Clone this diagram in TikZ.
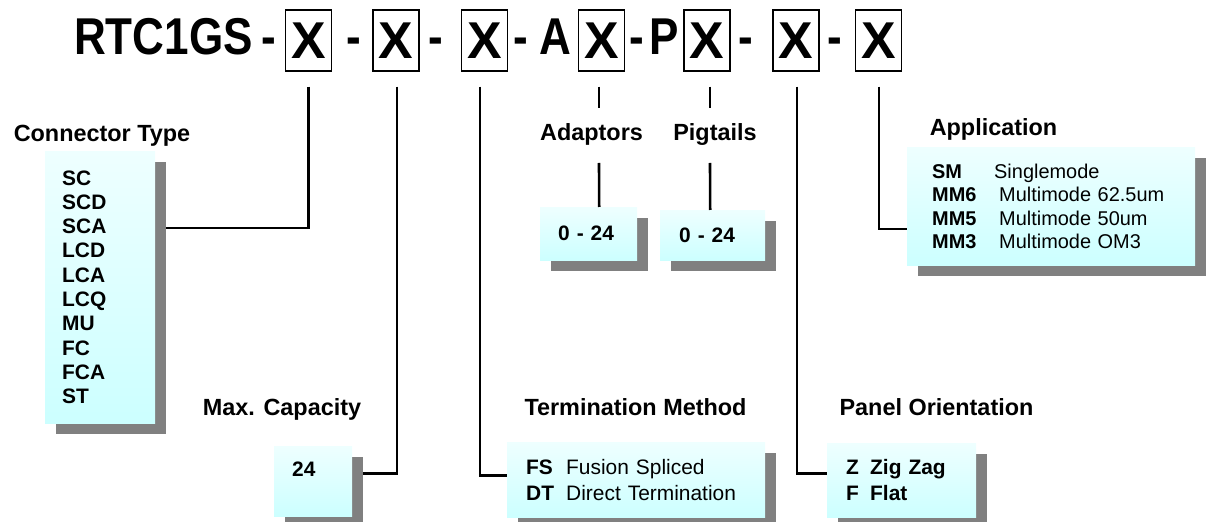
\documentclass[tikz,border=0pt]{standalone}
\usepackage{fontspec}
\setmainfont{Liberation Sans}
\newfontfamily\titlefont[FakeStretch=0.85]{Liberation Sans}
\usetikzlibrary{shadows}
\definecolor{boxtop}{RGB}{238,255,255}
\definecolor{boxbot}{RGB}{204,255,255}
\definecolor{shadowgray}{RGB}{128,128,128}

\begin{document}
\begin{tikzpicture}[x=1bp, y=-1bp,
  ttl/.style={font=\titlefont\bfseries\fontsize{52}{60}\selectfont, inner sep=0pt, anchor=base},
  xbox/.style={draw, line width=1.2bp, minimum width=46bp, minimum height=61bp, inner sep=0pt,
               font=\bfseries\fontsize{52}{60}\selectfont},
  conn/.style={line width=2.6bp},
  head/.style={font=\bfseries\fontsize{23.5}{28}\selectfont, inner sep=0pt, anchor=base},
  codebox/.style={anchor=north west, top color=boxtop, bottom color=boxbot, inner ysep=0pt, align=left,
                  drop shadow={shadow xshift=10.5bp, shadow yshift=-10.5bp, fill=shadowgray, opacity=1}},
  boldlist/.style={font=\bfseries\fontsize{21}{24.4}\selectfont},
]
  \useasboundingbox (0,0) rectangle (1206,522);

  \node[ttl, anchor=base west] (code) at (74,55) {RTC1GS};
  \foreach \x [count=\i] in {269,354,436,521,636.5,746,835}
    \node[ttl] (hy\i) at (\x,55) {-};
  \node[ttl] (adpA) at (555,55) {A};
  \node[ttl] (pgtP) at (664,55) {P};
  \foreach \x [count=\i] in {308.5,396,484.5,601.5,707,796,878.5}
    \node[xbox] (b\i) at (\x,40.5) {X};

  \node[head] (ctlab) at (102,142) {Connector Type};
  \node[head] (cplab) at (282,415) {Max. Capacity};
  \node[head] (tmlab) at (635.5,415) {Termination Method};
  \node[head] (pnlab) at (936.5,415) {Panel Orientation};
  \node[head] (adp) at (591.5,141) {Adaptors};
  \node[head] (pgt) at (715,141) {Pigtails};
  \node[head] (aplab) at (993.5,136) {Application};

  \node[codebox, boldlist, minimum width=110bp, minimum height=272bp, inner xsep=17bp, text width=76bp]
    (ctbox) at (45,151) {SC\\SCD\\SCA\\LCD\\LCA\\LCQ\\MU\\FC\\FCA\\ST};
  \node[codebox, boldlist, minimum width=78bp, minimum height=70bp, inner xsep=18bp, text width=42bp,
        text depth=24bp] (capbox) at (274,446) {24};
  \node[codebox, boldlist, minimum width=97bp, minimum height=53bp, inner xsep=18bp, text width=61bp]
    (abox) at (540,207) {0 - 24};
  \node[codebox, boldlist, minimum width=105bp, minimum height=50bp, inner xsep=19bp, text width=67bp]
    (pbox) at (660,210) {0 - 24};
  \node[codebox, font=\fontsize{21}{26}\selectfont, minimum width=258bp, minimum height=75bp,
        inner xsep=19bp, text width=220bp] (tmbox) at (507,442)
    {\makebox[40bp][l]{\bfseries FS}Fusion Spliced\\\makebox[40bp][l]{\bfseries DT}Direct Termination};
  \node[codebox, font=\bfseries\fontsize{21}{26}\selectfont, minimum width=149bp, minimum height=74bp,
        inner xsep=19bp, text width=111bp] (pnbox) at (827,443)
    {\makebox[24bp][l]{Z}Zig Zag\\\makebox[24bp][l]{F}Flat};
  \node[codebox, font=\fontsize{20}{23.5}\selectfont, minimum width=288bp, minimum height=118bp,
        inner xsep=25bp, text width=238bp] (apbox) at (907,147)
    {\makebox[62bp][l]{\bfseries SM}Singlemode\\\makebox[67bp][l]{\bfseries MM6}Multimode 62.5um\\
     \makebox[67bp][l]{\bfseries MM5}Multimode 50um\\\makebox[67bp][l]{\bfseries MM3}Multimode OM3};

  \draw[conn] (b1.south) ++(0,15) |- ([xshift=10.5bp,yshift=59bp]ctbox.east);
  \draw[conn] (b2.south) ++(1,15) |- ([xshift=10.5bp,yshift=8bp]capbox.east);
  \draw[conn] (b3.south) ++(-4.5,15) |- ([yshift=4.5bp]tmbox.west);
  \draw[conn] (b4.south) ++(-2.5,15) -- ++(0,21);
  \draw[conn] (b5.south) ++(3,15) -- ++(0,21);
  \draw[conn] (adp.base) ++(7.5,22) -- ([xshift=10.5bp]abox.north);
  \draw[conn] (pgt.base) ++(-5,22) -- ([xshift=-2.5bp]pbox.north);
  \draw[conn] (b6.south) ++(1,15) |- ([yshift=7bp]pnbox.west);
  \draw[conn] (b7.south) ++(0.5,15) |- ([yshift=-23bp]apbox.west);
\end{tikzpicture}
\end{document}
